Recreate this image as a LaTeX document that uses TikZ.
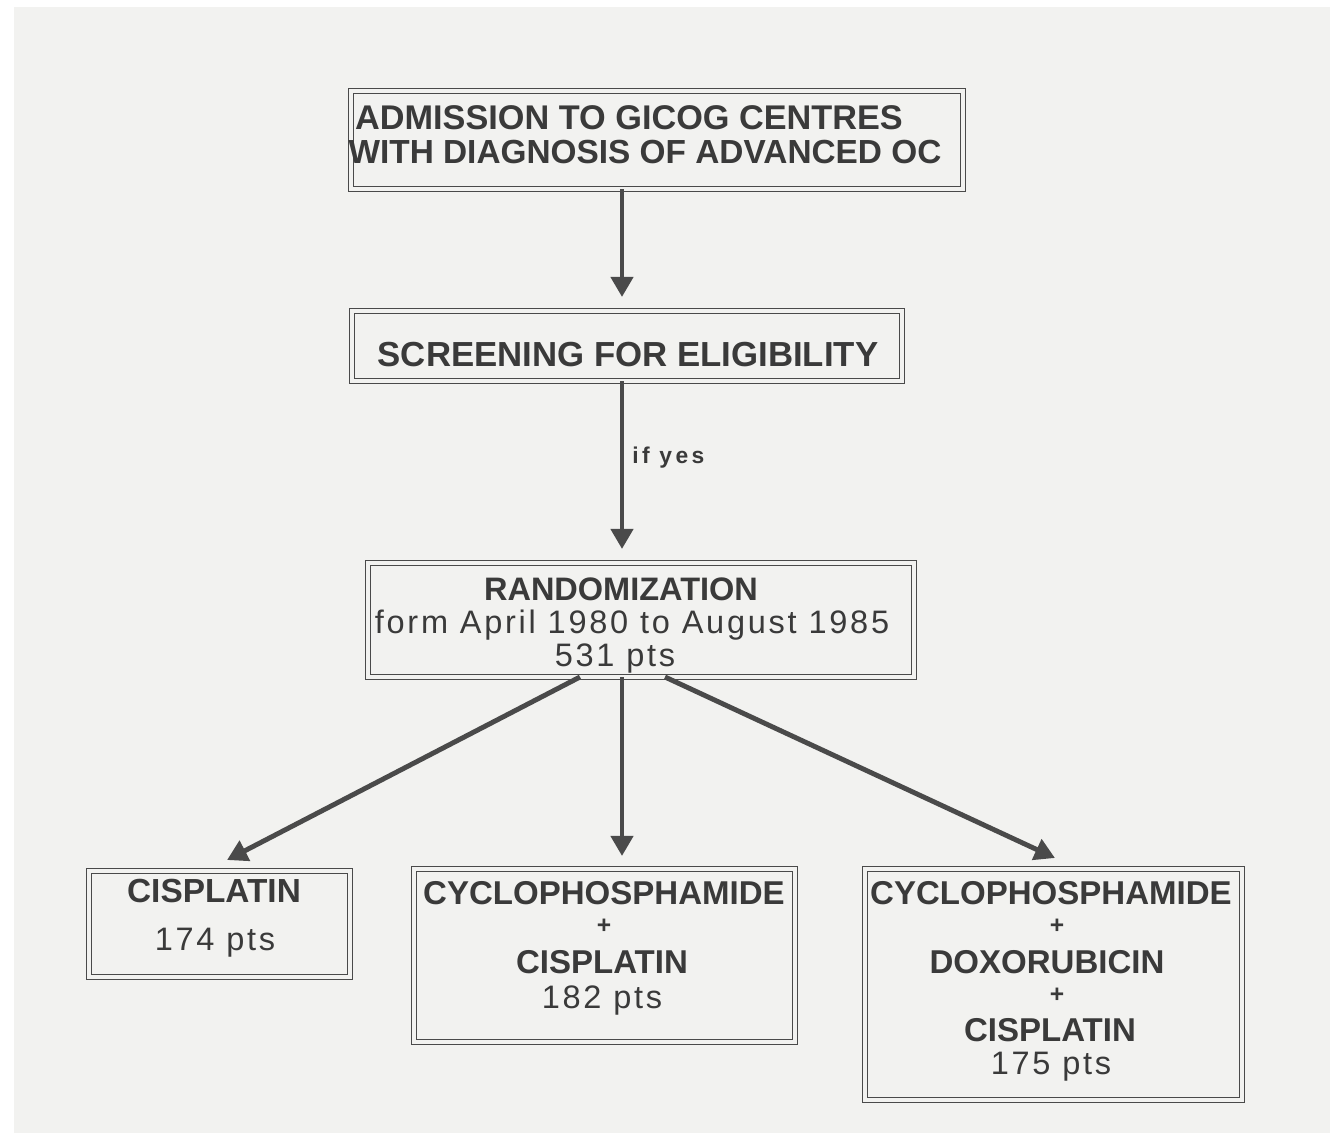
\documentclass[tikz,border=0pt]{standalone}
\usepackage{fontspec}
\setmainfont{Liberation Sans}
\newfontfamily\widefont[LetterSpace=8.5]{Liberation Sans}
\newfontfamily\yesfont[LetterSpace=15]{Liberation Sans}
\usetikzlibrary{arrows.meta,calc}
\definecolor{paper}{HTML}{F2F2F0}
\definecolor{ink}{HTML}{3A3A3A}
\definecolor{rule}{HTML}{4A4A4A}

\begin{document}
\begin{tikzpicture}[x=0.02cm,y=-0.02cm,
  frame/.style 2 args={draw=rule, line width=0.8pt, double=paper,
    double distance=1.9pt, minimum width=#1*0.02cm,
    minimum height=#2*0.02cm, inner sep=0pt, outer sep=0pt},
  head/.style={font=\bfseries\fontsize{#1}{22}\selectfont, text=ink,
    anchor=base, inner sep=0pt},
  head/.default=18.8,
  plain/.style={font=\widefont\fontsize{18.5}{22}\selectfont, text=ink,
    anchor=base, inner sep=0pt},
  plus/.style={font=\bfseries\fontsize{14}{14}\selectfont, text=ink,
    inner sep=0pt},
  arr/.style={draw=rule, line width=2.8pt,
    -{Triangle[length=11.5pt, width=12.5pt]}}]

% paper sheet
\fill[white] (0,0) rectangle (1330,1133);
\fill[paper] (14,7) rectangle (1330,1133);
\useasboundingbox (0,0) rectangle (1330,1133);

% boxes
\node[frame={612}{98}]  (admit)  at (657,140) {};
\node[frame={550}{70}]  (screen) at (627,346) {};
\node[frame={546}{114}] (rand)   at (641,620) {};
\node[frame={261}{106}] (armA)   at (219.5,924) {};
\node[frame={381}{173}] (armB)   at (604.5,955.5) {};
\node[frame={377}{231}] (armC)   at (1053.5,984.5) {};

% box texts
\node[head=19.5] (admit1) at (629,129) {ADMISSION TO GICOG CENTRES};
\node[head=19]   (admit2) at (645,163) {WITH DIAGNOSIS OF ADVANCED OC};

\node[head=19.8] (screen1) at (628,366) {SCREENING FOR ELIGIBILITY};

\node[head=18.5] (rand1) at (621,600) {RANDOMIZATION};
\node[plain]     (rand2) at (632,633) {form April 1980 to August 1985};
\node[plain]     (rand3) at (615,666) {531 pts};

\node[head=19]   (armA1) at (214,902) {CISPLATIN};
\node[plain]     (armA2) at (215,950) {174 pts};

\node[head]      (armB1) at (604,904) {CYCLOPHOSPHAMIDE};
\node[plus]      (armB2) at (604,926) {+};
\node[head]      (armB3) at (602,973) {CISPLATIN};
\node[plain]     (armB4) at (602,1008) {182 pts};

\node[head]      (armC1) at (1051,904) {CYCLOPHOSPHAMIDE};
\node[plus]      (armC2) at (1057,926) {+};
\node[head]      (armC3) at (1047,973) {DOXORUBICIN};
\node[plus]      (armC4) at (1057,995) {+};
\node[head]      (armC5) at (1050,1041) {CISPLATIN};
\node[plain]     (armC6) at (1051,1074) {175 pts};

% connector anchors
\coordinate (spine) at (622,0);
\coordinate (outL) at (580,0);
\coordinate (outR) at (665,0);
\coordinate (inL) at (227,0);
\coordinate (inR) at (1055,0);

% connectors
\draw[arr] (admit.south -| spine) -- ($(screen.north -| spine)+(0,-14)$);
\draw[arr] (screen.south -| spine) -- ($(rand.north -| spine)+(0,-14)$);
\node[font=\yesfont\bfseries\fontsize{13}{13}\selectfont, text=ink,
  anchor=base west, inner sep=0pt] (ifyes) at (632,463) {if yes};

\draw[arr] (rand.south -| outL) -- ($(armA.north -| inL)+(0,-11)$);
\draw[arr] (rand.south -| spine) -- ($(armB.north -| spine)+(0,-13)$);
\draw[arr] (rand.south -| outR) -- ($(armC.north -| inR)+(0,-11)$);
\end{tikzpicture}
\end{document}
